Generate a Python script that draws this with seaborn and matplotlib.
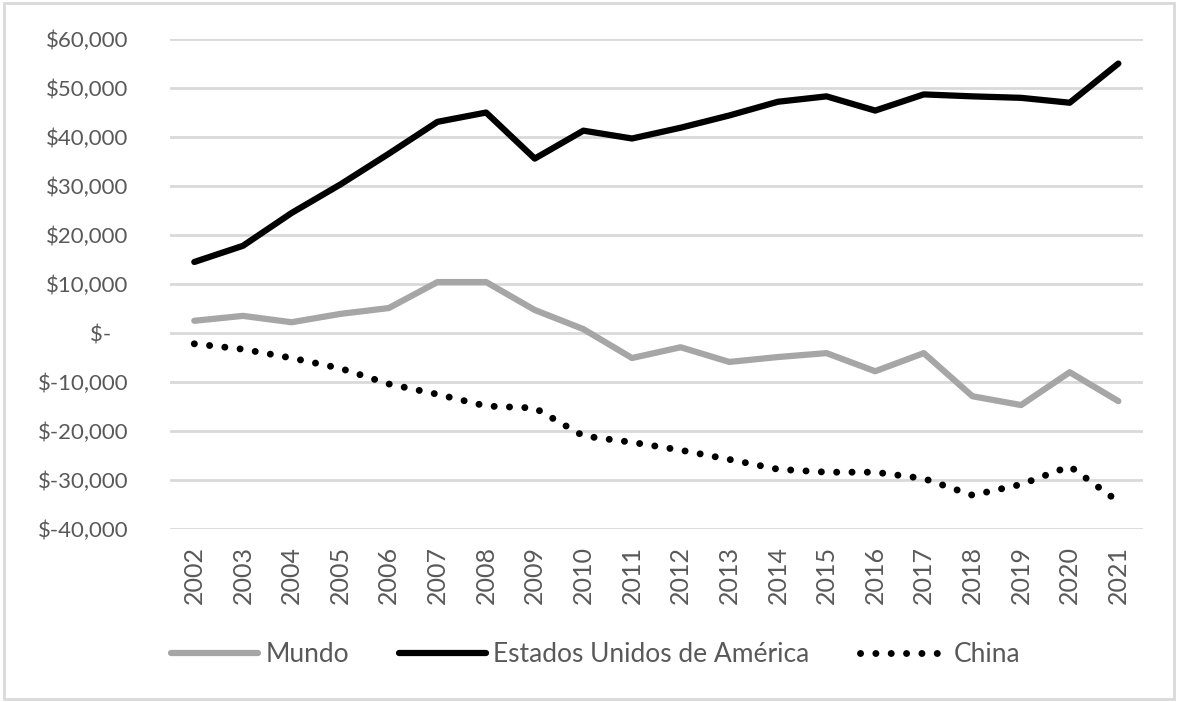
import numpy as np
import pandas as pd
import matplotlib
matplotlib.use("Agg")
import matplotlib.pyplot as plt
import matplotlib.ticker as mticker
from matplotlib.patches import Rectangle
import seaborn as sns

years = list(range(2002, 2022))

mundo = [2500, 3500, 2200, 3900, 5100, 10400, 10400, 4700, 800, -5100,
         -2900, -5900, -4900, -4100, -7800, -4100, -12900, -14700, -8000, -13900]
eeuu = [14500, 17800, 24500, 30300, 36600, 43100, 45000, 35600, 41300, 39700,
        41900, 44400, 47200, 48300, 45400, 48700, 48300, 48000, 47000, 55000]
china = [-2200, -3300, -5100, -7200, -10400, -12500, -14900, -15300, -21000, -22300,
         -23900, -25800, -27800, -28400, -28400, -29700, -33100, -30900, -27200, -34400]

df = pd.DataFrame({"year": years, "Mundo": mundo,
                   "Estados Unidos de América": eeuu, "China": china})

sns.set_theme(style="white")
plt.rcParams['font.family'] = ['Lato', 'DejaVu Sans']

fig = plt.figure(figsize=(11.78, 7.02), dpi=100)
ax = fig.add_axes([0.1443, 0.2464, 0.8257, 0.698])

txt = "#595959"

sns.lineplot(data=df, x="year", y="Mundo", ax=ax, color="#a6a6a6",
             linewidth=4.5, label="Mundo", solid_capstyle="round")
sns.lineplot(data=df, x="year", y="Estados Unidos de América", ax=ax, color="black",
             linewidth=4.5, label="Estados Unidos de América", solid_capstyle="round")
# dotted line: tiny dashes with round caps give round dots
sns.lineplot(data=df, x="year", y="China", ax=ax, color="black",
             linewidth=5, label="China", linestyle=(0, (0.01, 2.2)),
             dash_capstyle="round")

ax.set_xlim(2001.5, 2021.5)
ax.set_ylim(-40000, 60000)
ax.set_yticks(np.arange(-40000, 60001, 10000))
ax.set_xticks(years)
ax.set_xticklabels([str(y) for y in years], rotation=90)


def fmt(v, pos):
    if v == 0:
        return "$-   "
    return "$" + format(int(v), ",")


ax.yaxis.set_major_formatter(mticker.FuncFormatter(fmt))
ax.grid(axis="y", color="#d9d9d9", linewidth=2)
ax.set_axisbelow(True)
for s in ax.spines.values():
    s.set_visible(False)
ax.tick_params(axis="both", length=0, colors=txt)
ax.tick_params(axis="x", labelsize=18, pad=12)
ax.tick_params(axis="y", labelsize=16, pad=30)
ax.set_xlabel("")
ax.set_ylabel("")

leg = ax.legend(loc="center", bbox_to_anchor=(0.438, -0.257), ncol=3,
                frameon=False, fontsize=19, handlelength=3.3, columnspacing=1.9,
                handletextpad=0.27)
for t in leg.get_texts():
    t.set_color(txt)

fig.patches.append(Rectangle((0.003, 0.004), 0.994, 0.992, transform=fig.transFigure,
                             fill=False, edgecolor="#d9d9d9", linewidth=2))

fig.savefig("out.png", dpi=100)
